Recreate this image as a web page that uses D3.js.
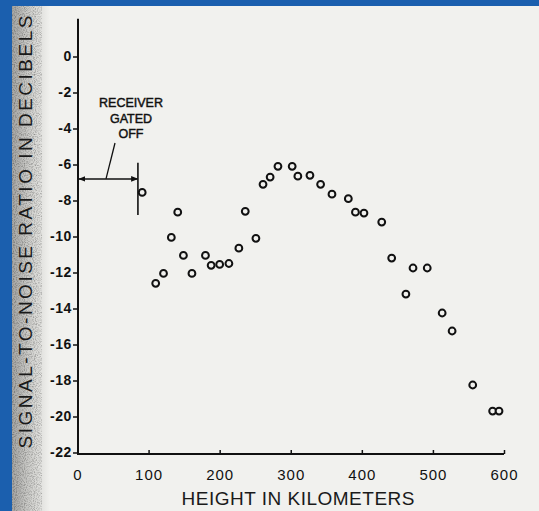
<!DOCTYPE html>
<html>
<head>
<meta charset="utf-8">
<script src="https://cdn.jsdelivr.net/npm/d3@7"></script>
<style>
  body { margin: 0; background: #1a5dab; }
  svg { display: block; }
</style>
</head>
<body>
<svg class="snr-chart"></svg>
<script>
// height (km) and signal-to-noise (dB)
var heightKm = [91, 110, 121, 132, 141, 149, 161, 180, 188, 200, 213, 227, 236, 251, 261, 271, 282,
                302, 310, 327, 342, 358, 381, 391, 403, 428, 442, 462, 472, 492, 513, 527, 556, 584, 593];
var snrDb = [-7.55, -12.6, -12.05, -10.05, -8.65, -11.05, -12.05, -11.05, -11.6, -11.55, -11.5, -10.65, -8.6, -10.1, -7.1, -6.7, -6.1,
             -6.1, -6.65, -6.6, -7.1, -7.65, -7.9, -8.65, -8.7, -9.2, -11.2, -13.2, -11.75, -11.75, -14.25, -15.25, -18.25, -19.7, -19.7];

var xTicks = [0, 100, 200, 300, 400, 500, 600];
var yTicks = [0, -2, -4, -6, -8, -10, -12, -14, -16, -18, -20, -22];

var gatedOffKm = 85;      // receiver gated off below this height
var gatedArrowDb = -6.8;

var w = 539, h = 511;

var svg = d3.select('.snr-chart')
  .attr('width', w)
  .attr('height', h);

var defs = svg.append('defs');
var shade = defs.append('linearGradient')
  .attr('id', 'shade')
  .attr('x1', 0).attr('x2', 1).attr('y1', 0).attr('y2', 0);
shade.append('stop').attr('offset', '0%').attr('stop-color', '#a4a4a2');
shade.append('stop').attr('offset', '45%').attr('stop-color', '#cdcdca');
shade.append('stop').attr('offset', '100%').attr('stop-color', '#f1f1ee');

// speckle for the scanner shadow
var grain = defs.append('filter').attr('id', 'grain').attr('x', 0).attr('y', 0).attr('width', 1).attr('height', 1);
grain.append('feTurbulence').attr('type', 'fractalNoise').attr('baseFrequency', 0.9).attr('numOctaves', 1).attr('result', 'n');
grain.append('feColorMatrix').attr('type', 'matrix')
  .attr('values', '0 0 0 0 0  0 0 0 0 0  0 0 0 0 0  0 0 0 -2.2 1.25');
grain.append('feComposite').attr('in2', 'SourceGraphic').attr('operator', 'in');

defs.append('marker')
  .attr('id', 'arrow')
  .attr('viewBox', '0 0 10 10')
  .attr('refX', 9).attr('refY', 5)
  .attr('markerWidth', 7).attr('markerHeight', 7)
  .attr('markerUnits', 'userSpaceOnUse')
  .attr('orient', 'auto-start-reverse')
  .append('path')
  .attr('d', 'M0,1L10,5L0,9Z')
  .attr('fill', '#111');

// paper + scan edges
svg.append('rect').attr('x', 12).attr('y', 6).attr('width', w - 12).attr('height', h - 6).attr('fill', '#f1f1ee');
svg.append('rect').attr('x', 12).attr('y', 6).attr('width', 38).attr('height', h - 6).attr('fill', 'url(#shade)');
svg.append('rect').attr('x', 12).attr('y', 6).attr('width', 30).attr('height', h - 6)
  .attr('fill', '#777').attr('opacity', 0.35).attr('filter', 'url(#grain)');
svg.append('rect').attr('x', 0).attr('y', 0).attr('width', 12).attr('height', h).attr('fill', '#1b5fae');
svg.append('rect').attr('x', 0).attr('y', 0).attr('width', w).attr('height', 6).attr('fill', '#1b5fae');

var x = d3.scaleLinear().domain([0, 600]).range([77.5, 504]);
var y = d3.scaleLinear().domain([-22, 0]).range([452.5, 56.5]);

var ink = '#111';

// y axis
var yAxis = svg.append('g')
  .attr('transform', 'translate(78,0)')
  .call(d3.axisLeft(y)
    .tickValues(yTicks)
    .tickSize(5)
    .tickSizeOuter(0)
    .tickPadding(1)
    .tickFormat(function(d) { return String(d); }));
yAxis.select('.domain').remove();
yAxis.selectAll('line').attr('stroke', ink).attr('stroke-width', 1.5);
yAxis.selectAll('text')
  .attr('fill', ink)
  .style('font', 'bold 14px "Liberation Sans", Arial, sans-serif')
  .style('letter-spacing', '0.6px');

svg.append('line')
  .attr('x1', 78).attr('x2', 78)
  .attr('y1', y(2.1)).attr('y2', 454)
  .attr('stroke', ink).attr('stroke-width', 2);

// x axis
var xAxis = svg.append('g')
  .attr('transform', 'translate(0,454)')
  .call(d3.axisBottom(x)
    .tickValues(xTicks)
    .tickSize(-4)
    .tickSizeOuter(0)
    .tickPadding(15)
    .tickFormat(function(d) { return String(d); }));
xAxis.select('.domain').remove();
xAxis.selectAll('line').attr('stroke', ink).attr('stroke-width', 1.5);
xAxis.selectAll('text')
  .attr('fill', ink)
  .style('font', '15px "Liberation Sans", Arial, sans-serif')
  .style('letter-spacing', '1px');

svg.append('line')
  .attr('x1', 77).attr('x2', x(600))
  .attr('y1', 454).attr('y2', 454)
  .attr('stroke', ink).attr('stroke-width', 2);

// axis titles
svg.append('text')
  .attr('transform', 'translate(32,232) rotate(-90)')
  .attr('text-anchor', 'middle')
  .attr('textLength', 433)
  .attr('lengthAdjust', 'spacing')
  .attr('fill', '#1a1a1a')
  .style('font', '19px "Liberation Sans", Arial, sans-serif')
  .text('SIGNAL-TO-NOISE RATIO IN DECIBELS');

svg.append('text')
  .attr('x', 298).attr('y', 505)
  .attr('text-anchor', 'middle')
  .attr('textLength', 233)
  .attr('lengthAdjust', 'spacing')
  .attr('fill', '#1a1a1a')
  .style('font', '19px "Liberation Sans", Arial, sans-serif')
  .text('HEIGHT IN KILOMETERS');

// "receiver gated off" annotation
var note = svg.append('g')
  .attr('fill', ink)
  .attr('stroke', ink)
  .attr('stroke-width', 0.45)
  .style('font', '12.5px "Liberation Sans", Arial, sans-serif')
  .attr('text-anchor', 'middle');
note.selectAll('text')
  .data(['RECEIVER', 'GATED', 'OFF'])
  .enter().append('text')
  .attr('x', 131)
  .attr('y', function(d, i) { return 107 + i * 15.5; })
  .text(function(d) { return d; });

svg.append('line')
  .attr('x1', 79).attr('x2', x(gatedOffKm) - 0.5)
  .attr('y1', y(gatedArrowDb)).attr('y2', y(gatedArrowDb))
  .attr('stroke', ink).attr('stroke-width', 1.5)
  .attr('marker-start', 'url(#arrow)')
  .attr('marker-end', 'url(#arrow)');

svg.append('line')
  .attr('x1', x(gatedOffKm)).attr('x2', x(gatedOffKm))
  .attr('y1', y(-5.9)).attr('y2', y(-8.8))
  .attr('stroke', ink).attr('stroke-width', 1.6);

svg.append('line')
  .attr('x1', 115).attr('y1', 143)
  .attr('x2', 106).attr('y2', y(gatedArrowDb))
  .attr('stroke', ink).attr('stroke-width', 1.3);

// data points
svg.append('g')
  .selectAll('circle')
  .data(heightKm)
  .enter().append('circle')
  .attr('cx', function(d) { return x(d); })
  .attr('cy', function(d, i) { return y(snrDb[i]); })
  .attr('r', 3.4)
  .attr('fill', '#f1f1ee')
  .attr('stroke', ink)
  .attr('stroke-width', 2);
</script>
</body>
</html>
